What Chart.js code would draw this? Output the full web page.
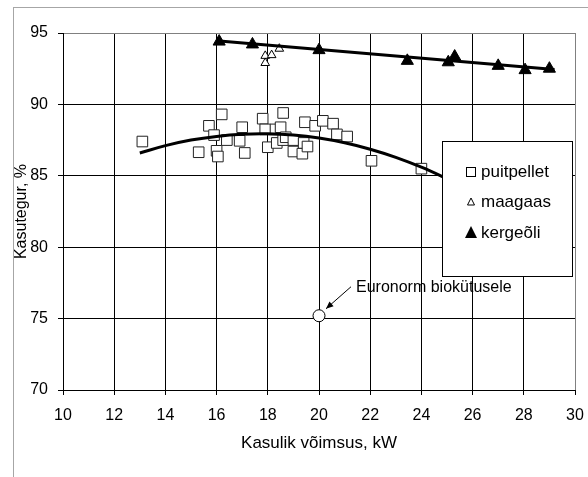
<!DOCTYPE html>
<html lang="et">
<head>
<meta charset="UTF-8">
<title>Kasutegur</title>
<script src="https://cdn.jsdelivr.net/npm/chart.js"></script>
<style>
  html, body { margin: 0; padding: 0; background: #fff; }
  canvas { display: block; }
</style>
</head>
<body>
<canvas id="graafik" width="588" height="477"></canvas>
<script>
  // puitpellet (ruudud)
  const puitX = [13.1, 15.3, 15.7, 15.9, 16.0, 16.05, 16.2, 16.4, 16.9, 17.0, 17.1, 17.8, 17.9, 18.0, 18.3, 18.35, 18.5, 18.6, 18.6, 18.7, 19.0, 19.0, 19.35, 19.4, 19.45, 19.55, 19.85, 20.15, 20.55, 20.7, 21.1, 22.05, 24.0];
  const puitY = [87.4, 86.65, 88.5, 87.85, 86.75, 86.35, 89.3, 87.5, 87.45, 88.4, 86.6, 89.0, 88.25, 87.0, 88.25, 87.3, 88.4, 89.4, 87.5, 87.7, 87.5, 86.7, 86.55, 87.3, 88.75, 87.05, 88.5, 88.85, 88.65, 87.9, 87.75, 86.05, 85.5];

  // maagaas (tühjad kolmnurgad)
  const gaasX = [17.9, 18.15, 17.9, 18.45];
  const gaasY = [93.4, 93.45, 92.9, 93.9];

  // kergeõli (täidetud kolmnurgad)
  const oliX = [16.1, 17.4, 20.0, 23.45, 25.05, 25.3, 27.0, 28.05, 29.0];
  const oliY = [94.4, 94.2, 93.8, 93.05, 92.95, 93.35, 92.7, 92.4, 92.5];

  // trendijooned, loetud pildilt
  const puitTrendX = [13, 14, 15, 16, 17, 18, 19, 20, 21, 22, 23, 24, 25, 25.5];
  const puitTrendY = [86.6, 87.11, 87.5, 87.76, 87.91, 87.94, 87.85, 87.64, 87.31, 86.86, 86.29, 85.6, 84.79, 84.35];
  const oliTrendX = [16.0, 29.2];
  const oliTrendY = [94.45, 92.45];

  // Euronorm
  const normX = [20.0];
  const normY = [75.2];

  const xTicks = [10, 12, 14, 16, 18, 20, 22, 24, 26, 28, 30];
  const yTicks = [70, 75, 80, 85, 90, 95];

  const legendItems = ["puitpellet", "maagaas", "kergeõli"];

  function paarid(xs, ys) {
    return xs.map((x, i) => ({ x: x, y: ys[i] }));
  }

  const FONT = "'Liberation Sans', Arial, sans-serif";

  // taust + hall raam
  const raamPlugin = {
    id: "raam",
    beforeDraw(chart) {
      const ctx = chart.ctx;
      ctx.save();
      ctx.fillStyle = "#fff";
      ctx.fillRect(0, 0, chart.width, chart.height);
      ctx.strokeStyle = "#a6a6a6";
      ctx.lineWidth = 1;
      ctx.strokeRect(13.5, 7.5, 700, 600);
      ctx.restore();
    },
  };

  // legend ja Euronorm silt
  const lisadPlugin = {
    id: "lisad",
    afterDraw(chart) {
      const ctx = chart.ctx;
      ctx.save();

      // legend
      ctx.fillStyle = "#fff";
      ctx.fillRect(442, 141, 131, 136);
      ctx.strokeStyle = "#000";
      ctx.lineWidth = 1;
      ctx.strokeRect(442.5, 141.5, 130, 135);

      const ly = [172, 202, 233];
      ctx.font = "17px " + FONT;
      ctx.textBaseline = "middle";
      ctx.textAlign = "left";
      legendItems.forEach((t, i) => {
        ctx.fillStyle = "#000";
        ctx.fillText(t, 481, ly[i]);
      });
      // märgid
      ctx.lineWidth = 1;
      ctx.strokeStyle = "#000";
      ctx.fillStyle = "#fff";
      ctx.fillRect(466.5, 167.5, 9, 9);
      ctx.strokeRect(466.5, 167.5, 9, 9);
      ctx.beginPath();
      ctx.moveTo(471, 198);
      ctx.lineTo(474.5, 205);
      ctx.lineTo(467.5, 205);
      ctx.closePath();
      ctx.stroke();
      ctx.fillStyle = "#000";
      ctx.beginPath();
      ctx.moveTo(471, 226);
      ctx.lineTo(477, 238);
      ctx.lineTo(465, 238);
      ctx.closePath();
      ctx.fill();

      // Euronorm nool + tekst
      const px = chart.scales.x.getPixelForValue(normX[0]);
      const py = chart.scales.y.getPixelForValue(normY[0]);
      const x0 = px + 32, y0 = py - 29;
      const x1 = px + 7, y1 = py - 7;
      ctx.strokeStyle = "#000";
      ctx.beginPath();
      ctx.moveTo(x0, y0);
      ctx.lineTo(x1, y1);
      ctx.stroke();
      const a = Math.atan2(y1 - y0, x1 - x0);
      ctx.beginPath();
      ctx.moveTo(x1, y1);
      ctx.lineTo(x1 - 8 * Math.cos(a - 0.4), y1 - 8 * Math.sin(a - 0.4));
      ctx.lineTo(x1 - 8 * Math.cos(a + 0.4), y1 - 8 * Math.sin(a + 0.4));
      ctx.closePath();
      ctx.fill();

      ctx.font = "16px " + FONT;
      ctx.textAlign = "left";
      ctx.textBaseline = "middle";
      ctx.fillText("Euronorm biokütusele", px + 37, py - 28);

      ctx.restore();
    },
  };

  const ctx = document.getElementById("graafik");

  new Chart(ctx, {
    type: "scatter",
    data: {
      datasets: [
        {
          label: "puitpellet trend",
          type: "line",
          data: paarid(puitTrendX, puitTrendY),
          borderColor: "#000",
          borderWidth: 3,
          pointRadius: 0,
          tension: 0.4,
          fill: false,
          order: 0,
        },
        {
          label: "kergeõli trend",
          type: "line",
          data: paarid(oliTrendX, oliTrendY),
          borderColor: "#000",
          borderWidth: 3,
          pointRadius: 0,
          fill: false,
          order: 0,
        },
        {
          label: "kergeõli",
          data: paarid(oliX, oliY),
          pointStyle: "triangle",
          pointRadius: 7,
          backgroundColor: "#000",
          borderColor: "#000",
          borderWidth: 1,
          order: 1,
        },
        {
          label: "maagaas",
          data: paarid(gaasX, gaasY),
          pointStyle: "triangle",
          pointRadius: 5,
          backgroundColor: "#fff",
          borderColor: "#000",
          borderWidth: 1,
          order: 2,
        },
        {
          label: "puitpellet",
          data: paarid(puitX, puitY),
          pointStyle: "rect",
          pointRadius: 7.5,
          backgroundColor: "#fff",
          borderColor: "#222",
          borderWidth: 1,
          order: 3,
        },
        {
          label: "Euronorm",
          data: paarid(normX, normY),
          pointStyle: "circle",
          pointRadius: 6,
          backgroundColor: "#fff",
          borderColor: "#000",
          borderWidth: 1,
          order: 1,
        },
      ],
    },
    options: {
      responsive: false,
      animation: false,
      layout: { padding: { top: 33, right: 13, left: 0, bottom: 0 } },
      plugins: {
        legend: { display: false },
        tooltip: { enabled: false },
      },
      scales: {
        x: {
          type: "linear",
          min: 10,
          max: 30,
          afterBuildTicks: (s) => { s.ticks = xTicks.map((v) => ({ value: v })); },
          afterFit: (s) => { s.height = 87; s.paddingLeft = 0; s.paddingRight = 0; },
          ticks: { color: "#000", font: { family: FONT, size: 16 }, padding: 11 },
          grid: {
            color: (c) => (c.tick && c.tick.value === 30 ? "#808080" : "#000"),
            tickColor: "#000",
            tickLength: 5,
          },
          border: { color: "#000" },
          title: {
            display: true,
            text: "Kasulik võimsus, kW",
            color: "#000",
            font: { family: FONT, size: 17 },
            padding: { top: 0, bottom: 23 },
          },
        },
        y: {
          min: 70,
          max: 95,
          afterBuildTicks: (s) => { s.ticks = yTicks.map((v) => ({ value: v })); },
          afterFit: (s) => { s.width = 63; s.paddingTop = 0; s.paddingBottom = 0; },
          ticks: { color: "#000", font: { family: FONT, size: 16 }, padding: 10 },
          grid: {
            color: (c) => (c.tick && c.tick.value === 95 ? "#808080" : "#000"),
            tickColor: "#000",
            tickLength: 5,
          },
          border: { color: "#000" },
          title: {
            display: true,
            text: "Kasutegur, %",
            color: "#000",
            font: { family: FONT, size: 16 },
            padding: { top: 12, bottom: 0 },
          },
        },
      },
    },
    plugins: [raamPlugin, lisadPlugin],
  });
</script>
</body>
</html>
